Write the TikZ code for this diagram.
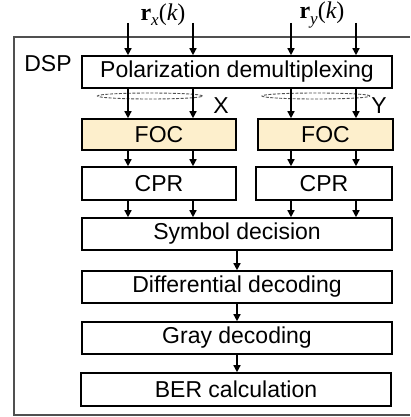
\documentclass[tikz,border=0pt]{standalone}
\usepackage{fontspec}
\setmainfont{Liberation Sans}
\newfontfamily\mserif{Liberation Serif}
\usetikzlibrary{arrows.meta,shapes.geometric}
\definecolor{focfill}{RGB}{253,239,204}
\definecolor{framegray}{RGB}{80,80,80}
\definecolor{dashgray}{RGB}{80,80,80}
\newcommand{\rlab}[1]{{\mserif\fontsize{24}{28}\selectfont\bfseries r\raisebox{-0.22em}{\mdseries\itshape\fontsize{17}{17}\selectfont #1}\mdseries\upshape(\itshape k\upshape)}}
\tikzset{
  txt/.style={font=\fontsize{23}{27}\selectfont, inner sep=0pt},
  block/.style={draw=black, line width=1.6pt, fill=white, txt, minimum height=32pt},
  focbox/.style={block, fill=focfill},
  arr/.style={line width=1.4pt, -{Triangle[length=7pt,width=7pt]}},
  grp/.style={ellipse, draw=dashgray, dashed, dash pattern=on 3pt off 1.5pt, line width=0.9pt, inner sep=0pt},
}
\begin{document}
\begin{tikzpicture}[x=1pt,y=-1pt]
\useasboundingbox (0,0) rectangle (410,417);
% outer frame (open to the right)
\draw[framegray, line width=1.6pt] (410,37) -- (14,37) -- (14,415) -- (410,415);
\node[txt] (dsp) at (48,64) {DSP};
% x positions
\coordinate (xa) at (128,23);
\coordinate (xb) at (193,23);
\coordinate (xc) at (291,23);
\coordinate (xd) at (356,23);
\coordinate (xm) at (237,0);
% labels
\node[inner sep=0pt] (rx) at (163,15) {\rlab{x}};
\node[inner sep=0pt] (ry) at (322,15) {\rlab{y}};
% blocks
\node[block, minimum width=310pt, minimum height=32pt] (pol) at (237,72) {Polarization demultiplexing};
\node[grp, minimum width=105pt, minimum height=6pt] (ex) at (150,96) {};
\node[grp, minimum width=108pt, minimum height=6pt] (ey) at (316,96) {};
\node[txt] (lx) at (221,106) {X};
\node[txt] (ly) at (379,106) {Y};
\node[focbox, minimum width=154pt, minimum height=31pt] (focl) at (159,134.5) {FOC};
\node[focbox, minimum width=135pt, minimum height=31pt] (focr) at (325.5,134.5) {FOC};
\node[block, minimum width=154pt, minimum height=33pt] (cprl) at (159,183.5) {CPR};
\node[block, minimum width=136pt, minimum height=33pt] (cprr) at (324,183.5) {CPR};
\node[block, minimum width=310pt] (sym) at (237,234) {Symbol decision};
\node[block, minimum width=310pt] (dif) at (237,287) {Differential decoding};
\node[block, minimum width=310pt] (gray) at (237,338) {Gray decoding};
\node[block, minimum width=310pt, minimum height=33pt] (ber) at (236,389.5) {BER calculation};
% input arrows
\foreach \p in {xa,xb,xc,xd} \draw[arr] (\p) -- (pol.north -| \p);
% pol -> FOC
\foreach \p in {xa,xb} \draw[arr] (pol.south -| \p) -- (focl.north -| \p);
\foreach \p in {xc,xd} \draw[arr] (pol.south -| \p) -- (focr.north -| \p);
% FOC -> CPR
\foreach \p in {xa,xb} \draw[arr] (focl.south -| \p) -- (cprl.north -| \p);
\foreach \p in {xc,xd} \draw[arr] (focr.south -| \p) -- (cprr.north -| \p);
% CPR -> symbol
\foreach \p in {xa,xb} \draw[arr] (cprl.south -| \p) -- (sym.north -| \p);
\foreach \p in {xc,xd} \draw[arr] (cprr.south -| \p) -- (sym.north -| \p);
% chain
\draw[arr] (sym.south -| xm) -- (dif.north -| xm);
\draw[arr] (dif.south -| xm) -- (gray.north -| xm);
\draw[arr] (gray.south -| xm) -- (ber.north -| xm);
\end{tikzpicture}
\end{document}
